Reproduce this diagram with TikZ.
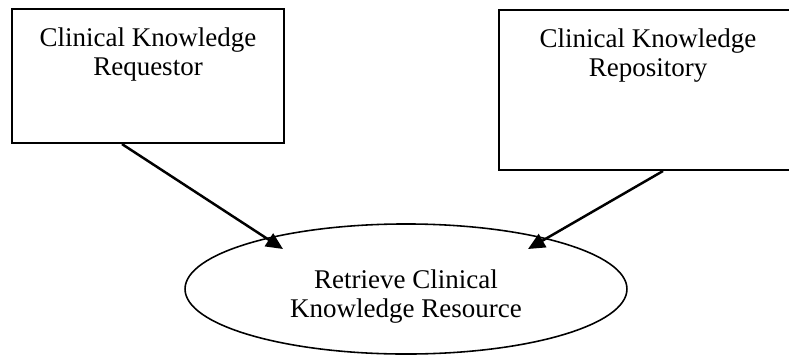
\documentclass[tikz,border=0pt]{standalone}
\usepackage{fontspec}
\setmainfont{Liberation Serif}
\usetikzlibrary{shapes.geometric,arrows.meta}

\begin{document}
\begin{tikzpicture}[x=0.4444pt,y=-0.4444pt,
  font=\fontsize{12}{13}\selectfont,
  actor/.style={draw,line width=0.9pt,inner sep=0pt},
  actortext/.style={anchor=north,inner sep=0pt,yshift=-8.4pt,align=center},
  usecase/.style={draw,ellipse,line width=0.7pt,inner sep=0pt,minimum width=196.4pt,minimum height=57.8pt},
  usecasetext/.style={anchor=center,inner sep=0pt,yshift=-3.4pt,align=center},
  flow/.style={line width=1.1pt,-{Triangle[length=7.5pt,width=6.7pt]}}]
\useasboundingbox (0,0) rectangle (789,354);
\node[actor,minimum width=120.9pt,minimum height=59.6pt,
  label={[actortext]north:{Clinical Knowledge\\Requestor}}] (req) at (148,76) {};
\node[actor,minimum width=132.4pt,minimum height=71.1pt,
  label={[actortext]north:{Clinical Knowledge\\Repository}}] (rep) at (648,90) {};
\node[usecase,
  label={[usecasetext]center:{Retrieve Clinical\\Knowledge Resource}}] (ret) at (406,289) {};
%\draw (req) -- (ret);
\draw[flow] ([shift={(-26,0)}]req.south) -- ([shift={(-123,-40)}]ret.center);
\draw[flow] ([shift={(15,0)}]rep.south) -- ([shift={(122,-40)}]ret.center);
\end{tikzpicture}
\end{document}
